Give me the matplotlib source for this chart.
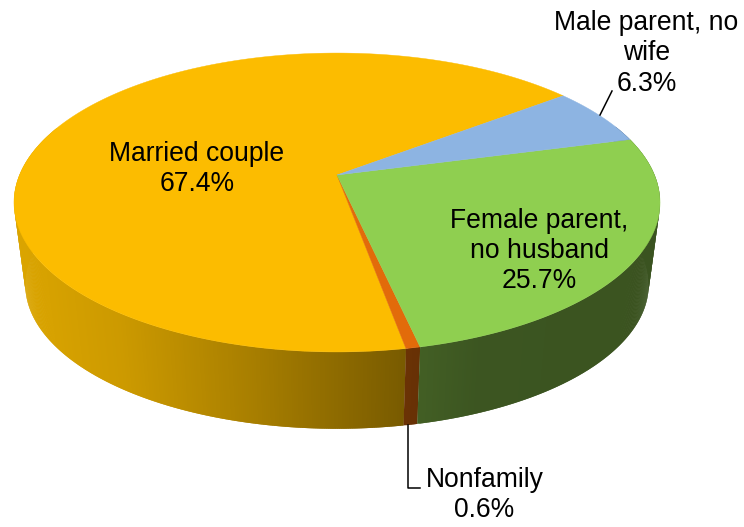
import numpy as np
from matplotlib import pyplot as plt
from matplotlib.colors import to_rgb

categories = ['Married couple', 'Nonfamily', 'Female parent,\nno husband', 'Male parent, no\nwife']
shares = [67.4, 0.6, 25.7, 6.3]
top_colors = ['#FCBC00', '#E26B0A', '#8FCF50', '#8DB4E2']
side_colors = ['#FFC000', '#E26B0A', '#92D050', '#8DB4E2']
label_xy = [(197, 169), (484.5, 495), (539, 251), (646.5, 53.5)]

plt.rcParams['font.family'] = ['Liberation Sans', 'DejaVu Sans']

# pie is drawn in pixel coords, perspective disc below
cx, cy = 337, 175
a, b, k = 317.5, 144.4, 0.184
start_angle = 37.6
drop, shrink = 83, 0.965


def project(t, y0, scale):
    u, v = np.cos(t), np.sin(t)
    w = 1 + k * v
    return cx + scale * a * u / w, y0 - scale * b * v / w


def side_shade(x):
    return np.interp(x, [13, 120, 250, 400, 415, 480, 660], [0.86, 0.80, 0.66, 0.48, 0.46, 0.41, 0.40])


fig = plt.figure(figsize=(7.44, 5.27), dpi=100)
ax = fig.add_axes([0, 0, 1, 1])
ax.set_xlim(0, 744)
ax.set_ylim(527, 0)
ax.axis('off')

angles = np.radians(start_angle + 3.6 * np.concatenate([[0], np.cumsum(shares)]))

# side wall first, each strip overlaps the next so no seams show
for i in range(len(shares)):
    n = max(4, int(np.degrees(angles[i + 1] - angles[i]) * 3))
    ts = np.linspace(angles[i], angles[i + 1], n + 1)
    base = np.array(to_rgb(side_colors[i]))
    for j in range(n):
        t0, t1 = ts[j], ts[min(j + 2, n)]
        if np.sin(ts[j]) > 0.35:
            continue
        x0, y0 = project(t0, cy, 1)
        x1, y1 = project(t1, cy, 1)
        x2, y2 = project(t1, cy + drop, shrink)
        x3, y3 = project(t0, cy + drop, shrink)
        mid = project(ts[j] + (ts[1] - ts[0]) / 2, cy, 1)[0]
        ax.fill([x0, x1, x2, x3], [y0, y1, y2, y3], color=base * side_shade(mid), lw=0, zorder=2)

# top face
for i in range(len(shares)):
    ts = np.linspace(angles[i], angles[i + 1], 300)
    xs, ys = project(ts, cy, 1)
    ax.fill(np.r_[cx, xs], np.r_[cy, ys], color=top_colors[i], lw=0.3, zorder=3)

# leader lines
ax.plot([408, 408, 420], [425, 487.5, 487.5], color='black', lw=1.1, zorder=4)
ax.plot([600, 612], [115, 91], color='black', lw=1.1, zorder=4)

for name, share, (x, y) in zip(categories, shares, label_xy):
    ax.text(x, y, f'{name}\n{share}%', ha='center', va='center', fontsize=19.1, color='black',
            linespacing=1.22, zorder=5)

fig.savefig('out.png', dpi=100)
